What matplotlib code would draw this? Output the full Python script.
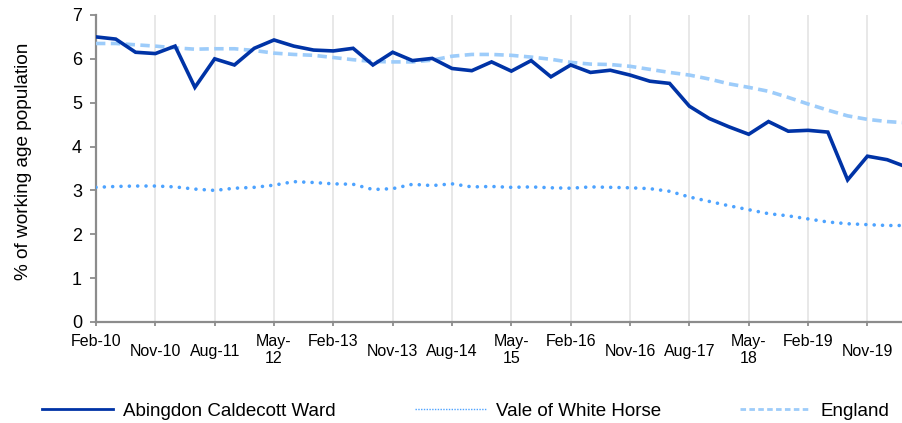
import matplotlib.pyplot as plt
import matplotlib.transforms as mtransforms
from matplotlib.lines import Line2D

plt.rcParams['font.family'] = ['Liberation Sans', 'DejaVu Sans']

# quarterly periods, Feb-10 .. May-20
periods = ['Feb-10', 'May-10', 'Aug-10', 'Nov-10', 'Feb-11', 'May-11', 'Aug-11', 'Nov-11',
           'Feb-12', 'May-12', 'Aug-12', 'Nov-12', 'Feb-13', 'May-13', 'Aug-13', 'Nov-13',
           'Feb-14', 'May-14', 'Aug-14', 'Nov-14', 'Feb-15', 'May-15', 'Aug-15', 'Nov-15',
           'Feb-16', 'May-16', 'Aug-16', 'Nov-16', 'Feb-17', 'May-17', 'Aug-17', 'Nov-17',
           'Feb-18', 'May-18', 'Aug-18', 'Nov-18', 'Feb-19', 'May-19', 'Aug-19', 'Nov-19',
           'Feb-20', 'May-20']

abingdon = [6.50, 6.45, 6.15, 6.12, 6.29, 5.35, 6.00, 5.86, 6.24, 6.43,
            6.29, 6.20, 6.18, 6.24, 5.86, 6.15, 5.96, 6.01, 5.78, 5.73,
            5.93, 5.72, 5.96, 5.59, 5.86, 5.69, 5.74, 5.63, 5.49, 5.44,
            4.92, 4.64, 4.45, 4.28, 4.57, 4.35, 4.37, 4.33, 3.24, 3.78,
            3.70, 3.53]
vale = [3.07, 3.09, 3.10, 3.10, 3.08, 3.03, 3.00, 3.05, 3.07, 3.12,
        3.20, 3.18, 3.15, 3.14, 3.02, 3.04, 3.14, 3.11, 3.15, 3.08,
        3.09, 3.07, 3.08, 3.06, 3.05, 3.08, 3.07, 3.06, 3.04, 2.98,
        2.85, 2.75, 2.65, 2.56, 2.47, 2.42, 2.35, 2.28, 2.24, 2.22,
        2.20, 2.20]
england = [6.35, 6.35, 6.32, 6.29, 6.25, 6.22, 6.23, 6.23, 6.19, 6.13,
           6.10, 6.08, 6.03, 5.98, 5.94, 5.93, 5.93, 5.97, 6.06, 6.10,
           6.10, 6.08, 6.04, 5.99, 5.92, 5.88, 5.87, 5.83, 5.76, 5.69,
           5.63, 5.54, 5.43, 5.35, 5.26, 5.12, 4.97, 4.83, 4.70, 4.62,
           4.57, 4.54]

xtick_labels = ['Feb-10', 'Nov-10', 'Aug-11', 'May-\n12', 'Feb-13', 'Nov-13', 'Aug-14',
                'May-\n15', 'Feb-16', 'Nov-16', 'Aug-17', 'May-\n18', 'Feb-19', 'Nov-19']

C_WARD = '#0033A6'
C_VALE = '#4DA3FF'
C_ENG = '#9DCCFA'
AXIS = '#8C8C8C'

fig = plt.figure(figsize=(9.03, 4.23), dpi=100)
ax = fig.add_axes([0.1063, 0.2388, 0.8937, 0.7258])

x = list(range(len(periods)))
ax.plot(x, england, color=C_ENG, lw=2.6, linestyle=(0, (2.6, 1.5)), zorder=3)
ax.plot(x, vale, color=C_VALE, lw=2.6, linestyle=(0, (0.01, 2.3)),
        dash_capstyle='round', zorder=3)
ax.plot(x, abingdon, color=C_WARD, lw=2.6, solid_joinstyle='miter', zorder=4)

ax.set_xlim(0, 40.8)
ax.set_ylim(0, 7)

tick_pos = x[::3]
ax.set_xticks(tick_pos)
ax.set_xticklabels(xtick_labels, fontsize=11.5, linespacing=1.15)
ax.set_yticks(range(0, 8))
ax.tick_params(axis='y', labelsize=13, length=4, width=1.3, color=AXIS, pad=6)
ax.tick_params(axis='x', length=3, width=1.3, color=AXIS, pad=6)

# Nov/Aug labels sit a little lower, like the Excel layout
shift = mtransforms.ScaledTranslation(0, -10 / 100, fig.dpi_scale_trans)
for lab in ax.get_xticklabels():
    if lab.get_text()[:3] in ('Nov', 'Aug'):
        lab.set_transform(lab.get_transform() + shift)

ax.grid(axis='x', color='#E6E6E6', lw=1.3, zorder=0)
ax.grid(axis='y', visible=False)

for s in ['top', 'right']:
    ax.spines[s].set_visible(False)
for s in ['left', 'bottom']:
    ax.spines[s].set_color(AXIS)
    ax.spines[s].set_linewidth(1.6)

ax.set_ylabel('% of working age population', fontsize=13.7)
ax.yaxis.set_label_coords(-0.079, 0.524)

handles = [Line2D([], [], color=C_WARD, lw=2.0),
           Line2D([], [], color=C_VALE, lw=1.0, linestyle=(0, (1, 1))),
           Line2D([], [], color=C_ENG, lw=2.0, linestyle=(0, (2, 1.2)))]
fig.legend(handles, ['Abingdon Caldecott Ward', 'Vale of White Horse', 'England'],
           loc='center', bbox_to_anchor=(0.516, 0.028), ncol=3, frameon=False,
           fontsize=13.5, handlelength=3.8, handletextpad=0.53, columnspacing=4.2)

plt.savefig('out.png', dpi=100, facecolor='white')
